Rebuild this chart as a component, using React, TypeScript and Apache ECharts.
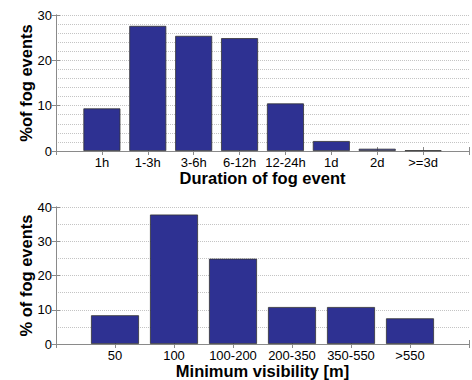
import React, { useEffect, useRef } from "react";
import * as echarts from "echarts";

const durationCategories = ["1h", "1-3h", "3-6h", "6-12h", "12-24h", "1d", "2d", ">=3d"];
const durationValues = [9.4, 27.6, 25.4, 24.9, 10.5, 2.2, 0.5, 0.15];
const durationYMax = 30;

const visibilityCategories = ["50", "100", "100-200", "200-350", "350-550", ">550"];
const visibilityValues = [8.4, 37.8, 24.9, 10.8, 10.8, 7.5];
const visibilityYMax = 40;

const FONT = "Arial, 'Liberation Sans', sans-serif";
const AXIS_GREY = "#8a8a8a";
const GRID_GREY = "#c4c4c4";
const BAR_BLUE = "#2e3192";

export default function App() {
  const ref = useRef<HTMLDivElement>(null);

  useEffect(() => {
    if (!ref.current) return;
    const chart = echarts.init(ref.current, undefined, { renderer: "svg" });

    const makeX = (cats: string[], gridIndex: number, name: string, bottom: boolean) => ({
      type: "value",
      gridIndex,
      position: bottom ? "bottom" : "top",
      min: 0,
      max: cats.length + 1,
      interval: 1,
      name: bottom ? name : "",
      nameLocation: "middle",
      nameGap: 18,
      nameMoveOverlap: false,
      nameTextStyle: { fontFamily: FONT, fontSize: 16.5, fontWeight: "bold", color: "#000" },
      axisLine: { show: true, lineStyle: { color: AXIS_GREY, width: 1 } },
      axisTick: {
        show: true,
        inside: true,
        length: 4,
        lineStyle: { color: AXIS_GREY },
      },
      axisLabel: {
        show: bottom,
        margin: 5,
        fontFamily: FONT,
        fontSize: 13,
        color: "#000",
        formatter: (v: number) => (v >= 1 && v <= cats.length ? cats[v - 1] : ""),
      },
      splitLine: { show: false },
    });

    const makeY = (
      max: number,
      minorSplit: number,
      gridIndex: number,
      name: string,
      left: boolean
    ) => ({
      type: "value",
      gridIndex,
      position: left ? "left" : "right",
      min: 0,
      max,
      interval: 10,
      name: left ? name : "",
      nameLocation: "middle",
      nameGap: 22,
      nameMoveOverlap: false,
      nameRotate: 90,
      nameTextStyle: { fontFamily: FONT, fontSize: 16.5, fontWeight: "bold", color: "#000" },
      axisLine: { show: true, lineStyle: { color: AXIS_GREY, width: 1 } },
      axisTick: { show: true, inside: true, length: 4, lineStyle: { color: AXIS_GREY } },
      axisLabel: {
        show: left,
        margin: 4,
        fontFamily: FONT,
        fontSize: 13,
        color: "#000",
      },
      splitLine: {
        show: left,
        lineStyle: { color: GRID_GREY, type: "dotted", width: 1 },
      },
      minorTick: { show: false, splitNumber: minorSplit },
      minorSplitLine: {
        show: left,
        lineStyle: { color: GRID_GREY, type: "dotted", width: 1 },
      },
    });

    chart.setOption({
      animation: false,
      backgroundColor: "#fff",
      grid: [
        { left: 56, top: 15, width: 419.4, height: 136, containLabel: false },
        { left: 56, top: 207, width: 420, height: 137, containLabel: false },
      ],
      xAxis: [
        makeX(durationCategories, 0, "Duration of fog event", true),
        makeX(durationCategories, 0, "", false),
        makeX(visibilityCategories, 1, "Minimum visibility [m]", true),
        makeX(visibilityCategories, 1, "", false),
      ],
      yAxis: [
        makeY(durationYMax, 5, 0, "%of fog events", true),
        makeY(durationYMax, 5, 0, "", false),
        makeY(visibilityYMax, 2, 1, "% of fog events", true),
        makeY(visibilityYMax, 2, 1, "", false),
      ],
      series: [
        {
          type: "bar",
          xAxisIndex: 0,
          yAxisIndex: 0,
          barWidth: 37,
          data: durationValues.map((v, i) => [i + 1, v]),
          itemStyle: { color: BAR_BLUE, borderColor: "#333", borderWidth: 0.8 },
        },
        {
          type: "bar",
          xAxisIndex: 2,
          yAxisIndex: 2,
          barWidth: 48,
          data: visibilityValues.map((v, i) => [i + 1, v]),
          itemStyle: { color: BAR_BLUE, borderColor: "#333", borderWidth: 0.8 },
        },
      ],
    });

    return () => chart.dispose();
  }, []);

  return (
    <div
      ref={ref}
      style={{ position: "fixed", left: 0, top: 0, width: 472, height: 380 }}
    />
  );
}
